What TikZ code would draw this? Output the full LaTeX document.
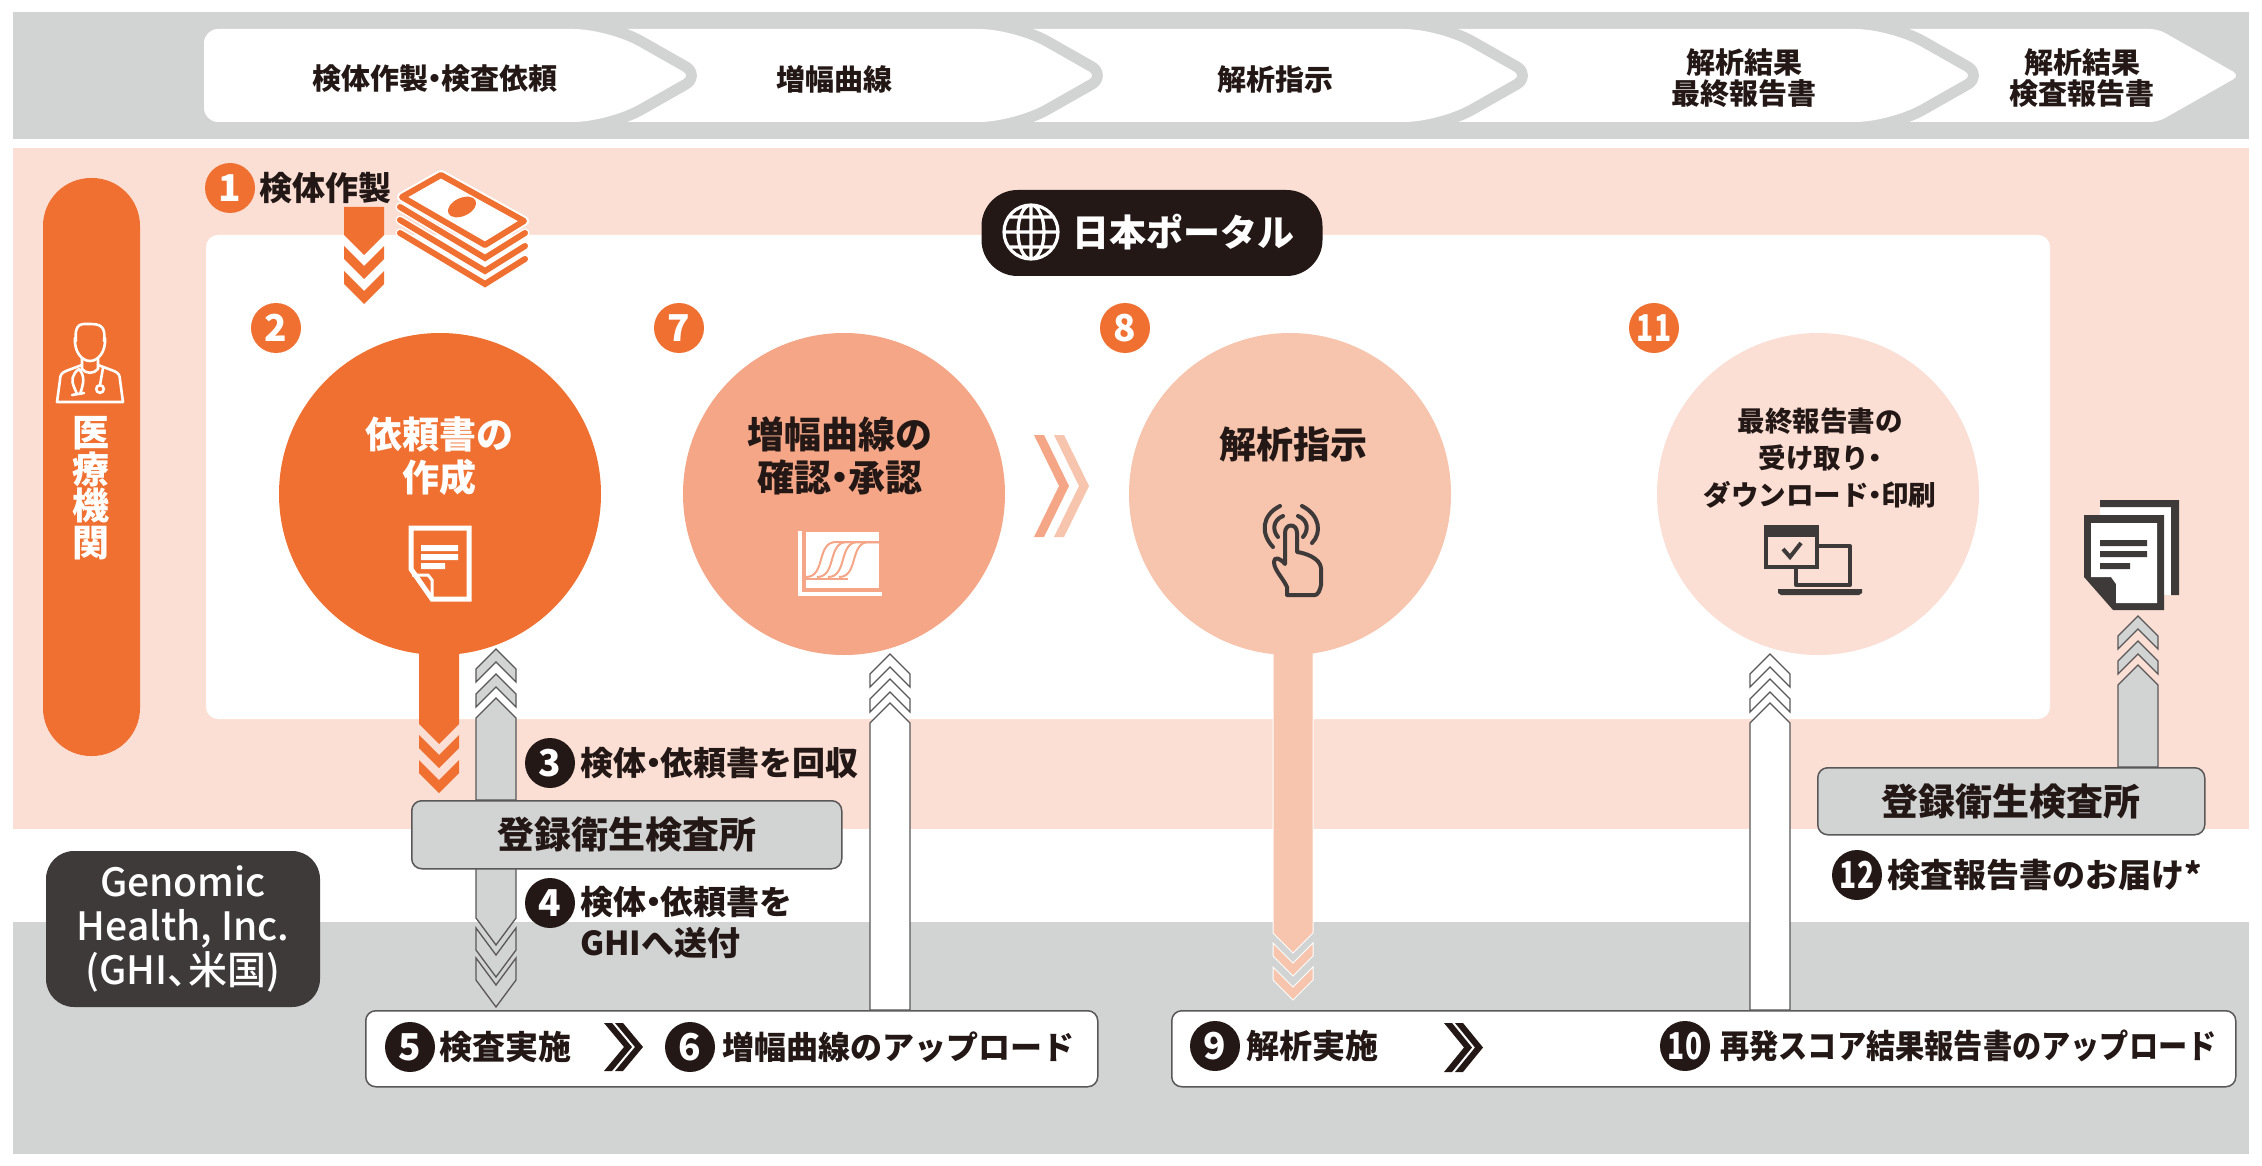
\documentclass[tikz,border=0pt]{standalone}
\usepackage{graphicx}
\usepackage{fontspec}
\usetikzlibrary{calc}
\setmainfont{Noto Sans CJK JP}
\newfontfamily\medfont{Noto Sans CJK JP Medium}
\definecolor{ink}{HTML}{231815}
\definecolor{dark}{HTML}{3E3A39}
\definecolor{edge}{HTML}{595757}
\definecolor{graybg}{HTML}{D2D3D3}
\definecolor{pinkbg}{HTML}{FBDFD5}
\definecolor{org}{HTML}{EF7030}
\definecolor{org2}{HTML}{F4A686}
\definecolor{org3}{HTML}{F7C4AD}
\newcommand\fz[2]{\fontsize{#1}{#2}\selectfont}
\newcommand\nd{\kern-.28em・\kern-.28em}
\newcommand\nx[1]{\scalebox{.76}[1]{#1}}
% block arrow: start coord, shaft-end coord, half width, h, t, gap, space, style
\newcommand\blockarrow[8]{%
 \draw[#8] let \p1=(#1),\p2=(#2),\n1={(\y2<\y1)?-1:1} in
  (\x1-#3pt,\y1)--(\x1-#3pt,\y2)--(\x1,{\y2+\n1*#4pt})--(\x1+#3pt,\y2)--(\x1+#3pt,\y1)--cycle
  (\x1-#3pt,{\y2+\n1*#6pt})--(\x1,{\y2+\n1*(#6pt+#4pt)})--(\x1+#3pt,{\y2+\n1*#6pt})--(\x1+#3pt,{\y2+\n1*(#6pt+#5pt)})--(\x1,{\y2+\n1*(#6pt+#4pt+#5pt)})--(\x1-#3pt,{\y2+\n1*(#6pt+#5pt)})--cycle
  (\x1-#3pt,{\y2+\n1*(#6pt+#7pt)})--(\x1,{\y2+\n1*(#6pt+#7pt+#4pt)})--(\x1+#3pt,{\y2+\n1*(#6pt+#7pt)})--(\x1+#3pt,{\y2+\n1*(#6pt+#7pt+#5pt)})--(\x1,{\y2+\n1*(#6pt+#7pt+#4pt+#5pt)})--(\x1-#3pt,{\y2+\n1*(#6pt+#7pt+#5pt)})--cycle;}
\newcommand\bandchev[3]{%
 \path[bandgap] (#1,75)--(#1,29)[rounded corners=35pt]--(#2,29)[rounded corners=8pt]--(#3,75.5)[rounded corners=35pt]--(#2,122)[sharp corners]--(#1,122)--cycle;}
\newcommand\dchev[6]{\fill[#6] (#1,#2)--(#1+#4,#2)--(#1+#4+#5,{(#2+#3)/2})--(#1+#4,#3)--(#1,#3)--(#1+#5,{(#2+#3)/2})--cycle;}
\tikzset{
 x=1pt,y=-1pt,
 bandgap/.style={preaction={draw=graybg,line width=22pt,line join=round},fill=white},
 blk/.style={text=ink,font=\bfseries,inner sep=0pt},
 wht/.style={text=white,font=\bfseries,inner sep=0pt},
 circ/.style={circle,minimum size=322pt,inner sep=0pt,fill=#1},
 badge/.style={circle,minimum size=50pt,inner sep=0pt,fill=#1,text=white,font=\bfseries\fz{37}{37}},
 labbox/.style={draw=edge,line width=1.5pt,rounded corners=10pt,inner sep=0pt,anchor=north west},
 flat/.style={fill=#1,draw=none},
 outl/.style={fill=#1,draw=edge,line width=1.3pt,miter limit=6},
 halo/.style={fill=#1,draw=white,line width=1pt,miter limit=6},
 icon/.style={draw=dark,line width=4.5pt,line cap=round,line join=round},
}
\begin{document}
\begin{tikzpicture}
\useasboundingbox (0,0) rectangle (2262,1166);
\fill[white] (0,0) rectangle (2262,1166);
% bands
\fill[graybg] (13,12) rectangle (2249,139);
\fill[pinkbg] (13,148) rectangle (2249,829);
\fill[graybg] (13,922) rectangle (2249,1154);
% process band
\fill[white,rounded corners=8pt] (1900,29)--(2158,29)--(2240,75.5)--(2158,122)--(1900,122)--cycle;
\bandchev{1400}{1890}{1972}
\bandchev{1000}{1439}{1521}
\bandchev{600}{1014}{1096}
\path[bandgap] (204,75)[rounded corners=14pt]--(204,29)[rounded corners=35pt]--(608,29)[rounded corners=8pt]--(690,75.5)[rounded corners=35pt]--(608,122)[rounded corners=14pt]--(204,122)--cycle;
\node[blk,font=\bfseries\fz{29}{31}] (h1) at (435,79) {検体作製\nd 検査依頼};
\node[blk,font=\bfseries\fz{29}{31}] (h2) at (834,79) {増幅曲線};
\node[blk,font=\bfseries\fz{29}{31}] (h3) at (1275,79) {解析指示};
\node[blk,font=\bfseries\fz{29}{31},align=center] (h4) at (1744,78) {解析結果\\最終報告書};
\node[blk,font=\bfseries\fz{29}{31},align=center] (h5) at (2082,78) {解析結果\\検査報告書};
% panels
\fill[white,rounded corners=12pt] (206,235) rectangle (2050,719);
\fill[org,rounded corners=48pt] (43,178) rectangle (140,756);
\node[wht,font=\bfseries\fz{37}{36.5},align=center] (med) at (91,488) {医\\療\\機\\関};
% arrow end coordinates
\coordinate (a1s) at (364,207); \coordinate (a1e) at (364,235);
\coordinate (a2s) at (439,640); \coordinate (a2e) at (439,724);
\coordinate (a3s) at (496,800); \coordinate (a3e) at (496,718);
\coordinate (a4s) at (496,868); \coordinate (a4e) at (496,918);
\coordinate (a6s) at (890,1010); \coordinate (a6e) at (890,723);
\coordinate (a8s) at (1293,640); \coordinate (a8e) at (1293,933);
\coordinate (a10s) at (1770,1010); \coordinate (a10e) at (1770,723);
\coordinate (a12s) at (2138,767); \coordinate (a12e) at (2138,685);
\blockarrow{a8s}{a8e}{20}{20}{13}{10}{24}{halo=org3}
% circles
\node[circ=org] (c2) at (440,494) {};
\node[circ=org2] (c7) at (844,494) {};
\node[circ=org3] (c8) at (1290,494) {};
\node[circ=pinkbg] (c11) at (1818,494) {};
\dchev{1034}{435}{537}{10}{25}{org2}
\dchev{1054}{435}{537}{10}{25}{org3}
% boxes
\node[labbox,fill=white,minimum width=732pt,minimum height=76pt] (b56) at (365,1010) {};
\node[labbox,fill=white,minimum width=1064pt,minimum height=76pt] (b910) at (1171,1010) {};
\blockarrow{a1s}{a1e}{20}{20}{13}{11}{25}{flat=org}
\blockarrow{a2s}{a2e}{20}{20}{13}{11}{25}{flat=org}
\blockarrow{a3s}{a3e}{20}{20}{13}{11}{25}{outl=graybg}
\blockarrow{a4s}{a4e}{20}{27}{22}{10}{30}{outl=graybg}
\blockarrow{a6s}{a6e}{20}{20}{13}{11}{25}{outl=white}
\blockarrow{a10s}{a10e}{20}{20}{13}{11}{25}{outl=white}
\blockarrow{a12s}{a12e}{20}{20}{13}{11}{25}{outl=graybg}
% lab boxes on top of the arrows
\node[labbox,fill=graybg,minimum width=430pt,minimum height=68pt] (lab1) at (411,800) {};
\node[labbox,fill=graybg,minimum width=387pt,minimum height=67pt] (lab2) at (1817,767) {};
\node[blk,font=\bfseries\fz{37}{37}] (lab1t) at (lab1.center) {登録衛生検査所};
\node[blk,font=\bfseries\fz{37}{37}] (lab2t) at (lab2.center) {登録衛生検査所};
% GHI
\node[fill=dark,rounded corners=28pt,minimum width=274pt,minimum height=156pt,inner sep=0pt] (ghi) at (183,929) {};
\node[text=white,inner sep=0pt,font=\medfont\fz{39}{44},align=center] (ghit) at (ghi.center) {Genomic\\Health, Inc.\\(GHI、\kern-.45em米国)};
% portal
\node[fill=ink,rounded corners=36pt,minimum width=341pt,minimum height=86pt,inner sep=0pt] (portal) at (1152,233) {};
\node[wht,font=\bfseries\fz{37}{37}] (portalt) at (1183,232) {日本ポータル};
\draw[white,line width=3.2pt] (1031,232) circle (27) (1031,205)--(1031,259) (1004,232)--(1058,232)
  (1031,232) ellipse (13 and 27) (1009,217)--(1053,217) (1009,247)--(1053,247);
% circle texts
\node[wht,font=\bfseries\fz{37}{43},align=center] (t2) at (439,456) {依頼書の\\作成};
\node[blk,font=\bfseries\fz{37}{43},align=center] (t7) at (840,456) {増幅曲線の\\確認\nd 承認};
\node[blk,font=\bfseries\fz{37}{37}] (t8) at (1293,444) {解析指示};
\node[blk,font=\bfseries\fz{27.5}{37},align=center] (t11) at (1820,458) {最終報告書の\\受け取り\nd\\ダウンロード\nd 印刷};
% badges
\node[badge=org] (n1) at (230,188) {1};
\node[badge=org] (n2) at (276,328) {2};
\node[badge=org] (n7) at (679,328) {7};
\node[badge=org] (n8) at (1125,328) {8};
\node[badge=org] (n11) at (1654,328) {\nx{11}};
\node[badge=ink] (n3) at (550,763) {3};
\node[badge=ink] (n4) at (550,903) {4};
\node[badge=ink] (n5) at (410,1047) {5};
\node[badge=ink] (n6) at (690,1047) {6};
\node[badge=ink] (n9) at (1215,1046) {9};
\node[badge=ink] (n10) at (1685,1046) {\nx{10}};
\node[badge=ink] (n12) at (1857,875) {\nx{12}};
% step labels
\node[blk,anchor=west,font=\bfseries\fz{33}{33}] (s1) at (259,188) {検体作製};
\node[blk,anchor=west,font=\bfseries\fz{33}{33}] (s3) at (580,763) {検体\nd 依頼書を回収};
\node[blk,anchor=west,font=\bfseries\fz{33}{41},align=left] (s4) at (580,922) {検体\nd 依頼書を\\GHIへ送付};
\node[blk,anchor=west,font=\bfseries\fz{33}{33}] (s5) at (439,1047) {検査実施};
\node[blk,anchor=west,font=\bfseries\fz{32}{32}] (s6) at (722,1047) {増幅曲線のアップロード};
\node[blk,anchor=west,font=\bfseries\fz{33}{33}] (s9) at (1246,1046) {解析実施};
\node[blk,anchor=west,font=\bfseries\fz{33}{33}] (s10) at (1720,1046) {\scalebox{.885}[1]{再発スコア結果報告書のアップロード}};
\node[blk,anchor=west,font=\bfseries\fz{33}{33}] (s12) at (1887,875) {検査報告書のお届け*};
\dchev{604}{1023}{1071}{8}{20}{ink}
\dchev{615}{1023}{1071}{8}{20}{ink}
\dchev{1444}{1023}{1072}{8}{20}{ink}
\dchev{1455}{1023}{1072}{8}{20}{ink}
% money icon
\foreach \o in {26,13,0}{
 \draw[white,line width=9pt,line cap=round,line join=miter] (400,207+\o)--(485,258+\o)--(525,233+\o);
 \draw[org,line width=6pt,line cap=round,line join=miter] (400,207+\o)--(485,258+\o)--(525,233+\o);}
\draw[draw=white,line width=10pt,line join=round,fill=white] (441,175)--(524,221)--(485,245)--(402,197)--cycle;
\draw[draw=org,line width=6pt,line join=round,fill=white] (441,175)--(524,221)--(485,245)--(402,197)--cycle;
\fill[org,rotate around={25:(462,207)}] (462,207) ellipse (15 and 9);
% doctor icon
\begin{scope}[draw=white,line width=2.6pt,line cap=round,line join=round]
\draw (76,341) .. controls (74,322) and (82,324) .. (90,324) .. controls (100,324) and (106,326) .. (104,341);
\draw (75,338) .. controls (74,352) and (82,361) .. (90,361) .. controls (98,361) and (106,352) .. (105,338);
\draw (82,358)--(82,369) .. controls (86,374) and (94,374) .. (98,369)--(98,358);
\draw (82,365)--(66,371) .. controls (61,373) and (60,376) .. (60,380)--(57,402)--(123,402)--(120,380) .. controls (120,376) and (119,373) .. (114,371)--(98,365);
\draw (79,369) .. controls (72,374) and (71,381) .. (74,387)--(77,394) (79,369) .. controls (85,376) and (84,383) .. (80,394) (72,395)--(84,393);
\draw (103,368)--(100,385);
\draw (100,389) circle (3.8);
\end{scope}
% document icon in circle 2
\draw[white,line width=5pt,line join=miter] (411,528)--(469,528)--(469,599)--(432,599)--(411,569)--cycle;
\draw[white,line width=3pt] (412,575)--(428,575)--(432,580)--(432,598);
\fill[white] (421,545) rectangle (458,551) (421,554) rectangle (458,560) (421,563) rectangle (445,569);
% graph icon
\fill[white] (806,532) rectangle (879,588);
\draw[white,line width=4pt] (800,531)--(800,594)--(882,594);
\foreach \k in {0,11,22,33}{
 \draw[org2,line width=2pt] (806+\k,577) .. controls (826+\k,577) and (816+\k,542) .. (836+\k,542)--(879,542);}
\draw[org2,line width=2pt] (806,579)--(848,579);
% hand icon
\draw[icon,line width=4pt] (1287,595)--(1287,587) .. controls (1283,578) and (1274,570) .. (1274,562) .. controls (1274,556) and (1280,558) .. (1285,564)--(1285,533) .. controls (1285,523) and (1297,523) .. (1297,533)--(1297,552) .. controls (1305,553) and (1320,558) .. (1321,568)--(1321,585) .. controls (1320,590) and (1318,595) .. (1315,595)--cycle;
\draw[icon,line width=4pt] (1280,506) .. controls (1262,515) and (1260,533) .. (1273,547);
\draw[icon,line width=4pt] (1283,516) .. controls (1273,520) and (1272,530) .. (1278,537);
\draw[icon,line width=4pt] (1302,506) .. controls (1320,515) and (1322,533) .. (1312,543);
\draw[icon,line width=4pt] (1298,516) .. controls (1308,520) and (1309,530) .. (1303,537);
% computer icon
\draw[dark,line width=4pt,line join=round] (1796,546) rectangle (1850,585);
\fill[dark] (1778,589)--(1862,589)--(1862,593)--(1859,595)--(1781,595)--(1778,593)--cycle;
\draw[dark,line width=4pt,fill=pinkbg] (1766,527) rectangle (1817,567);
\fill[dark] (1764,525) rectangle (1819,537);
\draw[dark,line width=4pt] (1783,549)--(1790,557)--(1801,543);
% stacked documents icon
\fill[white] (2100,500) rectangle (2179,595);
\fill[dark] (2100,500) rectangle (2179,507) (2171,500) rectangle (2179,595);
\fill[dark] (2084,515)--(2164,515)--(2164,610)--(2113,610)--(2084,577)--cycle;
\fill[white] (2091,523)--(2157,523)--(2157,603)--(2116,603)--(2116,584)--(2111,577)--(2091,577)--cycle;
\fill[dark] (2100,540) rectangle (2147,546) (2100,551) rectangle (2147,557) (2100,563) rectangle (2130,569);
\end{tikzpicture}
\end{document}
